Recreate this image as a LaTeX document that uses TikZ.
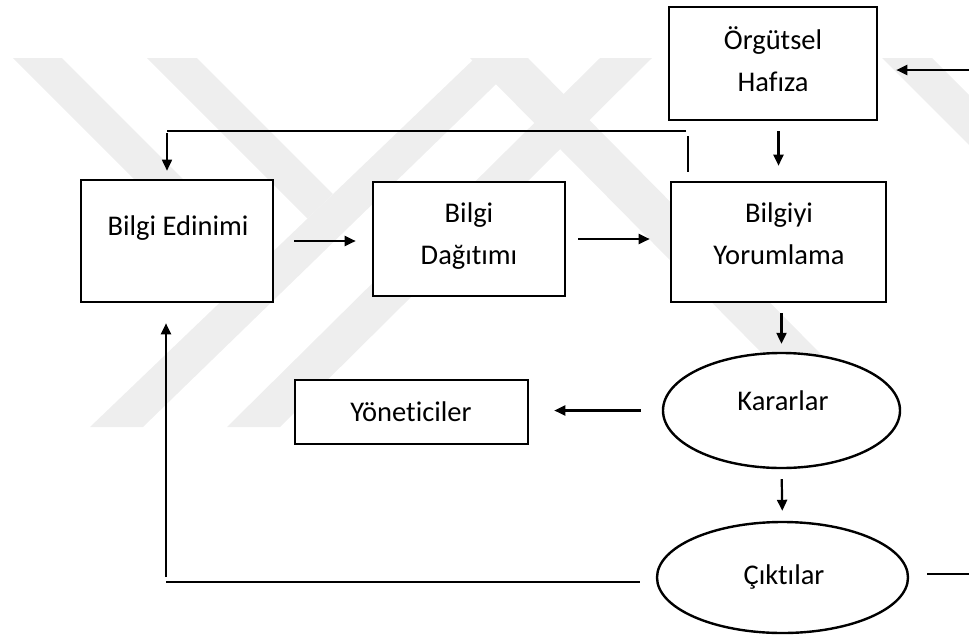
\documentclass[tikz,border=0pt]{standalone}
\usepackage{fontspec}
\setmainfont{Carlito}[Ligatures=NoCommon]
\usetikzlibrary{arrows.meta,shapes.geometric}
\definecolor{wmgray}{RGB}{238,238,238}
\begin{document}
\begin{tikzpicture}[x=1pt,y=-1pt,
  bx/.style={draw, line width=2.6pt, fill=white, inner sep=0pt},
  oval/.style={ellipse, draw, line width=2.4pt, fill=white, inner sep=0pt},
  lbl/.style={anchor=base, inner sep=0pt, font=\fontsize{28.5}{42}\selectfont},
  arr/.style={line width=2.2pt, -{Triangle[length=11pt,width=10pt]}},
  arrthin/.style={line width=1.7pt, -{Triangle[length=11pt,width=10pt]}},
  ln/.style={line width=2.2pt},
  lnthin/.style={line width=1.7pt}]
\useasboundingbox (0,0) rectangle (969,635);

% faint background emblem
\fill[wmgray] (13,58) -- (62,58) -- (264,260) -- (239,284) -- cycle;
\fill[wmgray] (147,58) -- (197,58) -- (333,194) -- (307.5,218.5) -- cycle;
\fill[wmgray] (475,58) -- (523,58) -- (143,427) -- (90,427) -- cycle;
\fill[wmgray] (600,58) -- (652,58) -- (280,427) -- (227,427) -- cycle;
\fill[wmgray] (470,58) -- (528,58) -- (893,427) -- (835,427) -- cycle;
\fill[wmgray] (882,58) -- (932,58) -- (969,95) -- (969,145) -- cycle;

% boxes
\node[bx, minimum width=208pt, minimum height=113pt] (oh) at (773,63.5) {};
\node[bx, minimum width=192pt, minimum height=122pt] (be) at (177,241) {};
\node[bx, minimum width=192pt, minimum height=114pt] (bd) at (469,239) {};
\node[bx, minimum width=215pt, minimum height=120pt] (by) at (778.5,242) {};
\node[bx, minimum width=233pt, minimum height=64pt] (yon) at (411.5,412) {};
\node[oval, minimum width=237pt, minimum height=115pt] (kar) at (781.5,410.5) {};
\node[oval, minimum width=251pt, minimum height=111pt] (cik) at (782.5,577.5) {};

% labels
\node[lbl] (ohA) at (773,49) {Örgütsel};
\node[lbl] (ohB) at (773,91) {Hafıza};
\node[lbl] (beA) at (178,235) {Bilgi Edinimi};
\node[lbl] (bdA) at (469,222) {Bilgi};
\node[lbl] (bdB) at (469,264) {Dağıtımı};
\node[lbl] (byA) at (779,222) {Bilgiyi};
\node[lbl] (byB) at (779,264) {Yorumlama};
\node[lbl] (yonA) at (411,421) {Yöneticiler};
\node[lbl] (karA) at (783,410) {Kararlar};
\node[lbl] (cikA) at (784,584) {Çıktılar};

% free ends and bends
\coordinate (inR) at (969,70);
\coordinate (fbR) at (688,131);
\coordinate (fbL) at (167,131);
\coordinate (lowL) at (166,582);
\coordinate (outR) at (969,574);

% main flow
\draw[arr, shorten <=20pt, shorten >=16pt] (be.east) -- (be.east -| bd.west);
\draw[arr, shorten <=12pt, shorten >=20pt] (bd.east) -- (bd.east -| by.west);
\draw[arr, shorten <=10pt, shorten >=15pt] (oh.south -| by.north) -- (by.north);
\draw[arr, shorten >=18pt] (inR) -- (inR -| oh.east);
\draw[arr, shorten <=10pt, shorten >=8pt] (by.south -| kar.north) -- (kar.north);
\draw[arr, shorten <=21pt, shorten >=25pt] (kar.west) -- (kar.west -| yon.east);
\draw[arr, shorten <=10pt, shorten >=10pt] (kar.south) -- (cik.north);

% feedback from interpretation to acquisition
\draw[lnthin, shorten <=9pt, shorten >=5pt] (by.north -| fbR) -- (fbR);
\draw[lnthin, shorten <=2pt] (fbR) -- (fbL);
\draw[arrthin, shorten <=2pt, shorten >=8pt] (fbL) -- (fbL |- be.north);

% outputs loop back and out
\draw[ln, shorten <=16pt] (cik.west |- lowL) -- (lowL);
\draw[arr, shorten <=5pt, shorten >=20pt] (lowL) -- (lowL |- be.south);
\draw[ln, shorten <=18pt] (cik.east |- outR) -- (outR);
\end{tikzpicture}
\end{document}
